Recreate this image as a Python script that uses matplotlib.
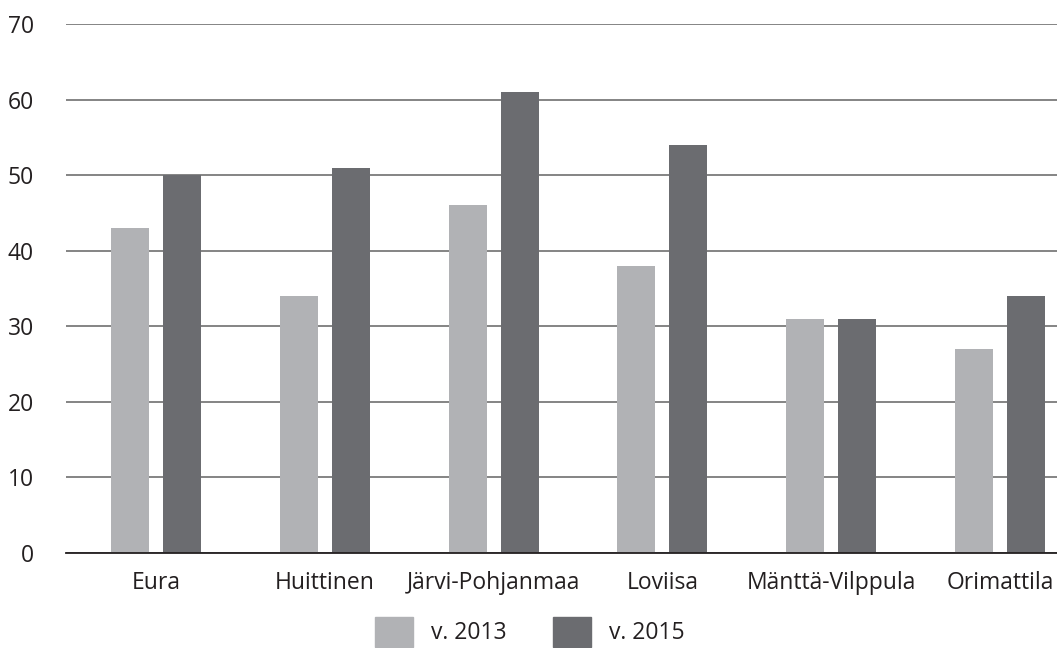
import matplotlib.pyplot as plt
import numpy as np
from matplotlib.patches import Patch

plt.rcParams['font.family'] = ['Open Sans', 'DejaVu Sans']

categories = ['Eura', 'Huittinen', 'Järvi-Pohjanmaa', 'Loviisa', 'Mänttä-Vilppula', 'Orimattila']
v2013 = [43, 34, 46, 38, 31, 27]
v2015 = [50, 51, 61, 54, 31, 34]
series_labels = ['v. 2013', 'v. 2015']
yticks = [0, 10, 20, 30, 40, 50, 60, 70]

light = '#b1b2b5'
dark = '#6b6c70'
fs = 16.5

fig = plt.figure(figsize=(10.57, 6.48), dpi=100)
ax = fig.add_axes([66 / 1057, 1 - 553 / 648, 1 - 66 / 1057, (553 - 24) / 648])

x = np.arange(len(categories))
w = 0.225
ax.bar(x - 0.154, v2013, width=w, color=light, zorder=3)
ax.bar(x + 0.154, v2015, width=w, color=dark, zorder=3)

ax.set_ylim(0, 70)
ax.set_xlim(-0.533, 5.338)
ax.set_yticks(yticks)
ax.set_xticks(x)
ax.set_xticklabels(categories)
ax.yaxis.grid(True, color='#6f6f6f', linewidth=1.2, zorder=0)
ax.tick_params(axis='both', length=0, labelsize=fs, colors='#231f20')
ax.tick_params(axis='y', pad=23)
ax.tick_params(axis='x', pad=13)
for s in ['top', 'right', 'left']:
    ax.spines[s].set_visible(False)
ax.spines['bottom'].set_color('#231f20')
ax.spines['bottom'].set_linewidth(1.3)
ax.spines['bottom'].set_zorder(4)

handles = [Patch(color=light), Patch(color=dark)]
fig.legend(handles, series_labels, loc='center', bbox_to_anchor=(530 / 1057, 1 - 632 / 648),
           ncol=2, frameon=False, fontsize=fs, handlelength=1.66, handleheight=1.66,
           handletextpad=0.79, columnspacing=2.0, labelcolor='#231f20')

fig.savefig('out.png', dpi=100)
